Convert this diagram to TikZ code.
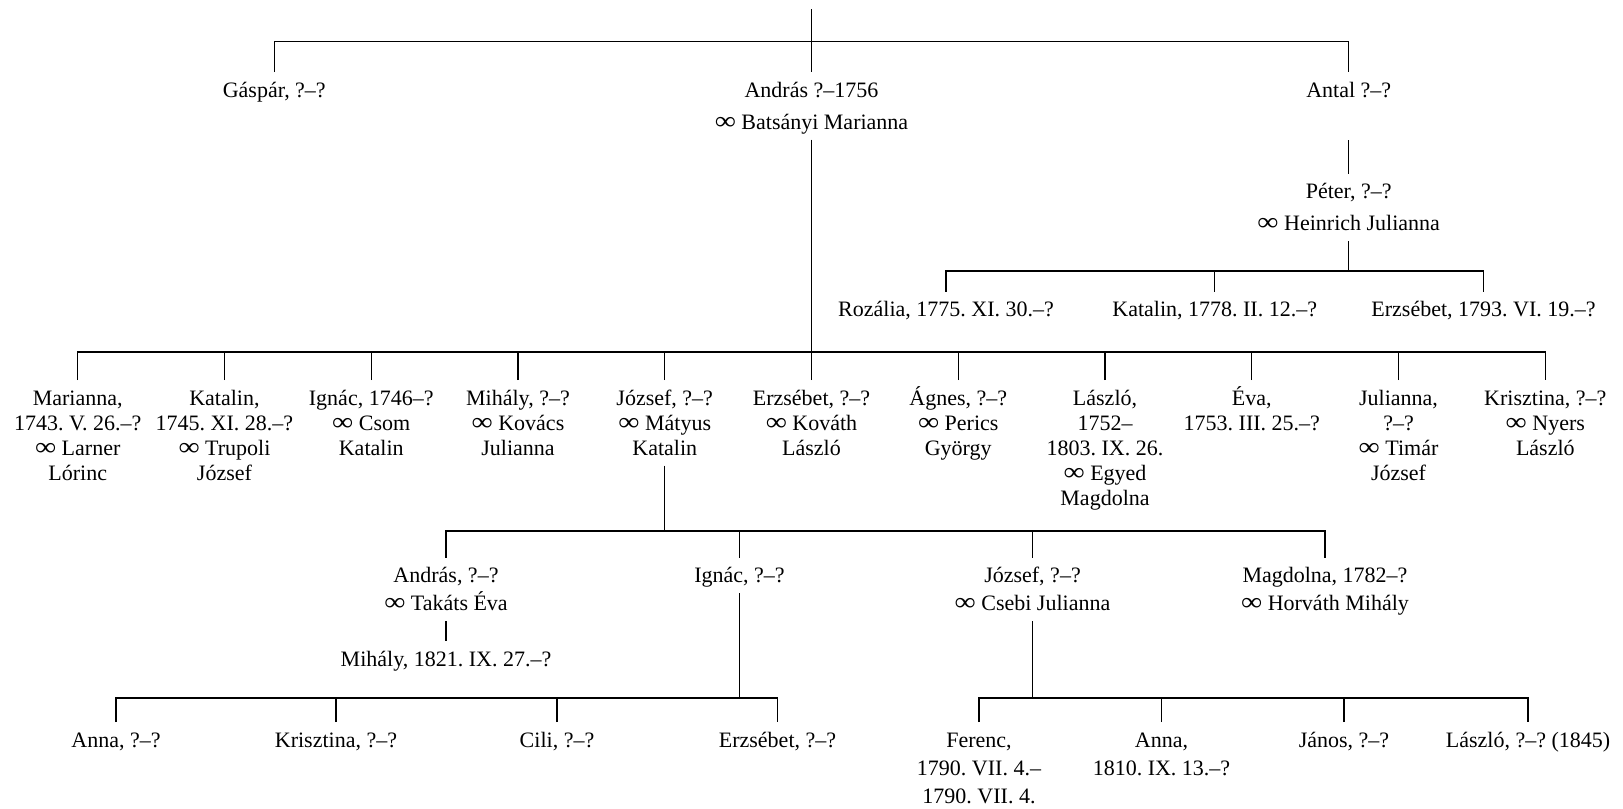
\documentclass[tikz,border=0pt]{standalone}
\usepackage{graphicx}
\usepackage{fontspec}
\setmainfont{Liberation Serif}
\frenchspacing
\newcommand\fs{\rule{0pt}{0.9em}}
\newcommand\ls{\rule[-0.22em]{0pt}{0.22em}}
\newcommand\mar{\scalebox{1.35}[1.15]{∞}}
\tikzset{
  pers/.style={inner sep=0pt, outer sep=4pt, align=center, anchor=north,
    font=\fontsize{16.5}{18.75}\selectfont},
  wide/.style={font=\fontsize{16.5}{24}\selectfont},
  mid/.style={font=\fontsize{16.5}{21}\selectfont},
  ln/.style={line width=1pt}
}
\begin{document}
\begin{tikzpicture}[x=0.75pt,y=-0.75pt]
\useasboundingbox (0,0) rectangle (1623,808);
% level 1
\coordinate (top) at (811.5,9);
\coordinate (b1) at (811.5,41.4);
\node[pers,wide] (gaspar) at (274.3,72.2) {\fs Gáspár, ?–?\ls};
\node[pers,wide] (andras) at (811.5,72.2) {\fs András ?–1756\\\mar{} Batsányi Marianna\ls};
\node[pers,wide] (antal) at (1348.7,72.2) {\fs Antal ?–?\ls};
\draw[ln] (top) -- (andras.north);
\draw[ln] (gaspar.north) |- (b1) -| (antal.north);
% Peter branch
\node[pers,wide] (peter) at (1348.7,173.7) {\fs Péter, ?–?\\\mar{} Heinrich Julianna\ls};
\coordinate (bp) at (1348.7,271);
\node[pers] (roz) at (946,291.7) {\fs Rozália, 1775. XI. 30.–?\ls};
\node[pers] (kat1) at (1214.7,291.7) {\fs Katalin, 1778. II. 12.–?\ls};
\node[pers] (erz1) at (1483.5,291.7) {\fs Erzsébet, 1793. VI. 19.–?\ls};
\draw[ln] (peter.north) -- (peter.north |- andras.south);
\draw[ln] (peter.south) -- (bp);
\draw[ln] (roz.north) |- (bp) -| (erz1.north);
\draw[ln] (kat1.north) -- (kat1.north |- bp);
% level 2
\coordinate (b2) at (811.5,352);
\node[pers] (c1) at (77.7,380.2) {\fs Marianna,\\1743. V. 26.–?\\\mar{} Larner\\Lórinc\ls};
\node[pers] (c2) at (224.46,380.2) {\fs Katalin,\\1745. XI. 28.–?\\\mar{} Trupoli\\József\ls};
\node[pers] (c3) at (371.22,380.2) {\fs Ignác, 1746–?\\\mar{} Csom\\Katalin\ls};
\node[pers] (c4) at (517.98,380.2) {\fs Mihály, ?–?\\\mar{} Kovács\\Julianna\ls};
\node[pers] (c5) at (664.74,380.2) {\fs József, ?–?\\\mar{} Mátyus\\Katalin\ls};
\node[pers] (c6) at (811.5,380.2) {\fs Erzsébet, ?–?\\\mar{} Kováth\\László\ls};
\node[pers] (c7) at (958.26,380.2) {\fs Ágnes, ?–?\\\mar{} Perics\\György\ls};
\node[pers] (c8) at (1105.02,380.2) {\fs László,\\1752–\\1803. IX. 26.\\\mar{} Egyed\\Magdolna\ls};
\node[pers] (c9) at (1251.78,380.2) {\fs Éva,\\1753. III. 25.–?\ls};
\node[pers] (c10) at (1398.54,380.2) {\fs Julianna,\\?–?\\\mar{} Timár\\József\ls};
\node[pers] (c11) at (1545.3,380.2) {\fs Krisztina, ?–?\\\mar{} Nyers\\László\ls};
\draw[ln] (andras.south) -- (b2);
\draw[ln] (c1.north) |- (b2) -| (c11.north);
\foreach \i in {2,...,10} {\draw[ln] (c\i.north) -- (c\i.north |- b2);}
% level 3
\coordinate (b3) at (664.74,531);
\node[pers,mid] (d1) at (446,557.7) {\fs András, ?–?\\\mar{} Takáts Éva\ls};
\node[pers,mid] (d2) at (739.5,557.7) {\fs Ignác, ?–?\ls};
\node[pers,mid] (d3) at (1032.5,557.7) {\fs József, ?–?\\\mar{} Csebi Julianna\ls};
\node[pers,mid] (d4) at (1325,557.7) {\fs Magdolna, 1782–?\\\mar{} Horváth Mihály\ls};
\draw[ln] (c5.south) -- (b3);
\draw[ln] (d1.north) |- (b3) -| (d4.north);
\draw[ln] (d2.north) -- (d2.north |- b3);
\draw[ln] (d3.north) -- (d3.north |- b3);
\node[pers] (mih) at (446,641.2) {\fs Mihály, 1821. IX. 27.–?\ls};
\draw[ln] (d1.south) -- (mih.north);
% level 4 left
\coordinate (b4l) at (739.5,698);
\node[pers,mid] (e1) at (116,722.2) {\fs Anna, ?–?\ls};
\node[pers,mid] (e2) at (336,722.2) {\fs Krisztina, ?–?\ls};
\node[pers,mid] (e3) at (557,722.2) {\fs Cili, ?–?\ls};
\node[pers,mid] (e4) at (777.5,722.2) {\fs Erzsébet, ?–?\ls};
\draw[ln] (d2.south) -- (b4l);
\draw[ln] (e1.north) |- (b4l) -| (e4.north);
\draw[ln] (e2.north) -- (e2.north |- b4l);
\draw[ln] (e3.north) -- (e3.north |- b4l);
% level 4 right
\coordinate (b4r) at (1032.5,698);
\node[pers,mid] (f1) at (979,722.2) {\fs Ferenc,\\1790. VII. 4.–\\1790. VII. 4.\ls};
\node[pers,mid] (f2) at (1161.5,722.2) {\fs Anna,\\1810. IX. 13.–?\ls};
\node[pers,mid] (f3) at (1344,722.2) {\fs János, ?–?\ls};
\node[pers,mid] (f4) at (1528,722.2) {\fs László, ?–? (1845)\ls};
\draw[ln] (d3.south) -- (b4r);
\draw[ln] (f1.north) |- (b4r) -| (f4.north);
\draw[ln] (f2.north) -- (f2.north |- b4r);
\draw[ln] (f3.north) -- (f3.north |- b4r);
\end{tikzpicture}
\end{document}
